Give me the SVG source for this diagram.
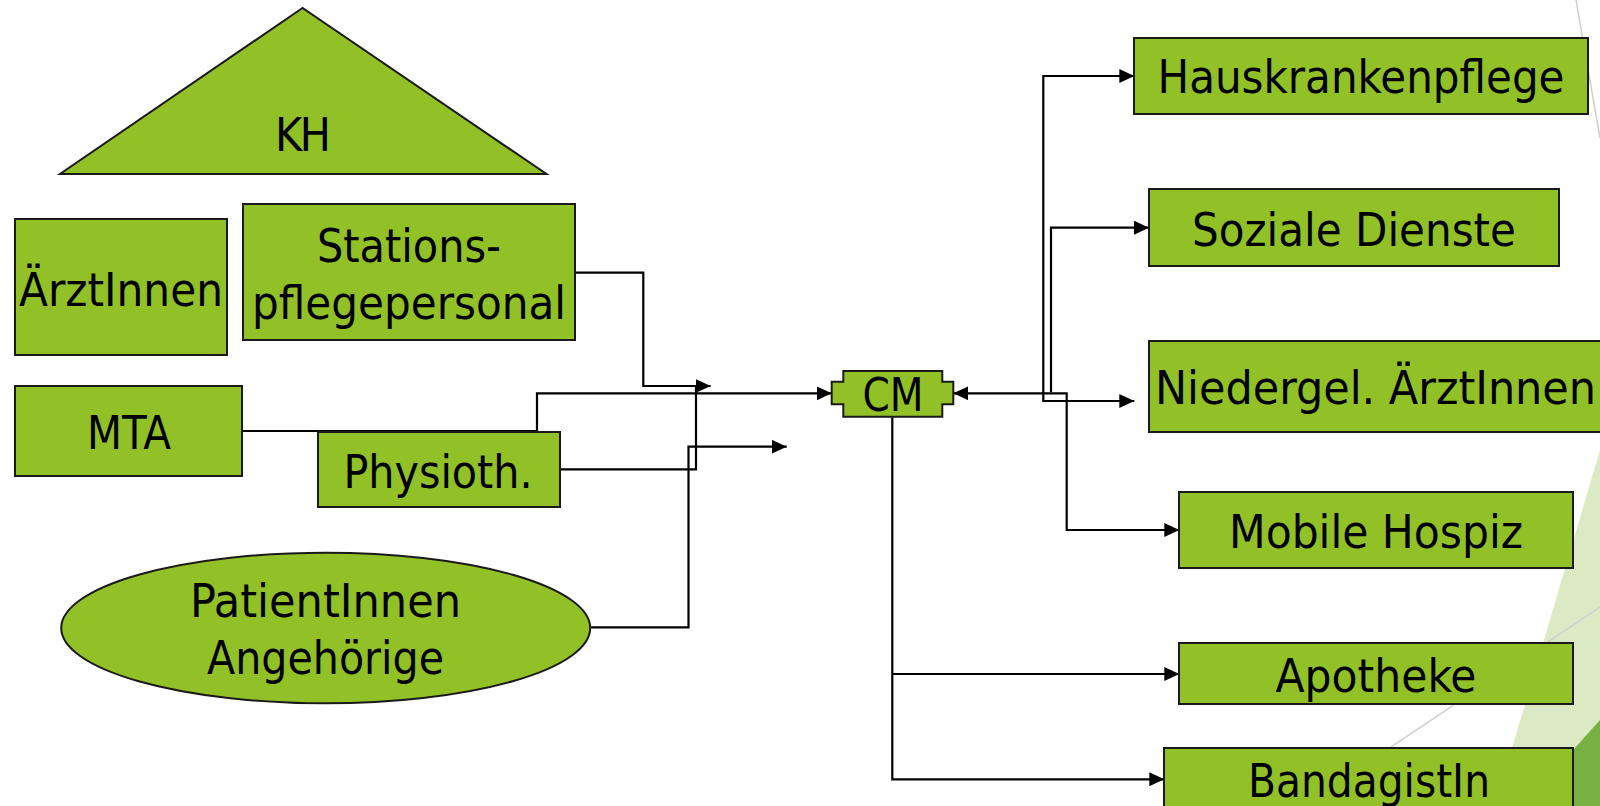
<svg xmlns="http://www.w3.org/2000/svg" width="1600" height="806" viewBox="0 0 1600 806">
<style>
.bg{fill:#ffffff}
.node{fill:#92c027;stroke:#1a1a1a;stroke-width:2}
.t{font-family:"DejaVu Sans Condensed","DejaVu Sans",sans-serif;font-stretch:condensed;font-size:46px;fill:#000;text-anchor:middle}
.c{fill:none;stroke:#000;stroke-width:2.2}
.deco{fill:none;stroke:#cfcfcf;stroke-width:1.5}
</style>
<defs>
<marker id="arr" markerUnits="userSpaceOnUse" markerWidth="16" markerHeight="16" refX="15" refY="7" orient="auto-start-reverse">
<path d="M0,0 L15,7 L0,14 z" fill="#000"/>
</marker>
</defs>
<rect class="bg" x="0" y="0" width="1600" height="806"/>
<g id="background">
<polygon points="1600,450 1495,806 1600,806" fill="#dce9c5"/>
<polygon points="1600,720 1523,806 1600,806" fill="#78b043"/>
<line class="deco" x1="1576" y1="0" x2="1600" y2="138"/>
<line class="deco" x1="1600" y1="607" x2="1300" y2="808"/>
</g>
<g id="connectors">
<path class="c" d="M575,272.7 H643.3 V386 H710.7" marker-end="url(#arr)"/>
<path class="c" d="M242,431 H537 V393.3 H831.7" marker-end="url(#arr)"/>
<path class="c" d="M560,469.3 H696 V386"/>
<path class="c" d="M590,627.3 H688.5 V446.7 H786.7" marker-end="url(#arr)"/>
<path class="c" d="M953.3,393.3 H1066.7 V530 H1179.3" marker-start="url(#arr)" marker-end="url(#arr)"/>
<path class="c" d="M1134.3,401 H1043.3 V76 H1134.3" marker-start="url(#arr)" marker-end="url(#arr)"/>
<path class="c" d="M1051,392.3 V227.7 H1149" marker-end="url(#arr)"/>
<path class="c" d="M892.3,416.7 V779.3 H1164.3" marker-end="url(#arr)"/>
<path class="c" d="M892.3,674 H1179.3" marker-end="url(#arr)"/>
</g>
<g id="node-kh">
<polygon class="node" points="302.5,8 60,174 546.5,174"/>
<text class="t" x="303" y="151" textLength="56">KH</text>
</g>
<g id="node-aerztinnen">
<rect class="node" x="15" y="219" width="212" height="136"/>
<text class="t" x="121" y="306" textLength="204" lengthAdjust="spacingAndGlyphs">ÄrztInnen</text>
</g>
<g id="node-stationspflege">
<rect class="node" x="243" y="204" width="332" height="136"/>
<text class="t" x="409" y="262" textLength="184" lengthAdjust="spacingAndGlyphs">Stations-</text>
<text class="t" x="409" y="319" textLength="314" lengthAdjust="spacingAndGlyphs">pflegepersonal</text>
</g>
<g id="node-mta">
<rect class="node" x="15" y="386" width="227" height="90"/>
<text class="t" x="129" y="449" textLength="84" lengthAdjust="spacingAndGlyphs">MTA</text>
</g>
<g id="node-physioth">
<rect class="node" x="318" y="432" width="242" height="75"/>
<text class="t" x="438" y="488" textLength="189" lengthAdjust="spacingAndGlyphs">Physioth.</text>
</g>
<g id="node-patienten">
<ellipse class="node" cx="325.7" cy="628" rx="264.5" ry="75.3"/>
<text class="t" x="325.5" y="617" textLength="271" lengthAdjust="spacingAndGlyphs">PatientInnen</text>
<text class="t" x="325.5" y="674" textLength="237" lengthAdjust="spacingAndGlyphs">Angehörige</text>
</g>
<g id="node-cm">
<path class="node" d="M843.3,371 H942.3 V381.7 H953.3 V404.3 H942.3 V416.7 H843.3 V404.3 H831.7 V381.7 H843.3 Z"/>
<text class="t" x="893" y="411" textLength="61" lengthAdjust="spacingAndGlyphs">CM</text>
</g>
<g id="node-hauskrankenpflege">
<rect class="node" x="1134" y="38" width="454" height="76"/>
<text class="t" x="1361" y="93" textLength="407" lengthAdjust="spacingAndGlyphs">Hauskrankenpflege</text>
</g>
<g id="node-soziale-dienste">
<rect class="node" x="1149" y="189" width="410" height="77"/>
<text class="t" x="1354" y="246" textLength="324" lengthAdjust="spacingAndGlyphs">Soziale Dienste</text>
</g>
<g id="node-niedergel">
<rect class="node" x="1149" y="341" width="480" height="91"/>
<text class="t" x="1375.5" y="404" textLength="441" lengthAdjust="spacingAndGlyphs">Niedergel. ÄrztInnen</text>
</g>
<g id="node-mobile-hospiz">
<rect class="node" x="1179" y="492" width="394" height="76"/>
<text class="t" x="1376" y="548" textLength="294" lengthAdjust="spacingAndGlyphs">Mobile Hospiz</text>
</g>
<g id="node-apotheke">
<rect class="node" x="1179" y="643" width="394" height="61"/>
<text class="t" x="1376" y="692" textLength="201" lengthAdjust="spacingAndGlyphs">Apotheke</text>
</g>
<g id="node-bandagistin">
<rect class="node" x="1164" y="748" width="409" height="80"/>
<text class="t" x="1369" y="797" textLength="242" lengthAdjust="spacingAndGlyphs">BandagistIn</text>
</g>
</svg>
